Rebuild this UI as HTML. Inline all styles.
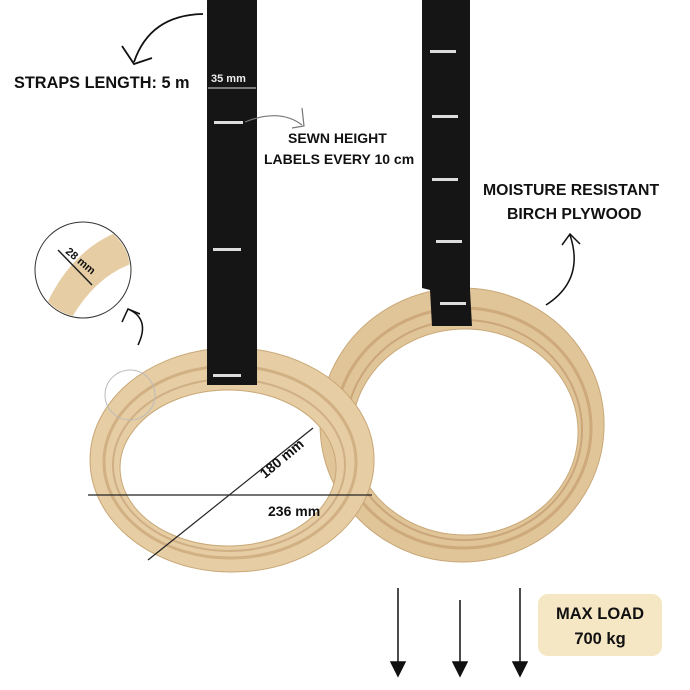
<!DOCTYPE html>
<html><head><style>
body{margin:0;background:#fff;}
svg{display:block;font-family:"Liberation Sans",sans-serif;}
</style></head><body>
<svg width="690" height="690" viewBox="0 0 690 690" xmlns="http://www.w3.org/2000/svg">
<rect width="690" height="690" fill="#fff"/>
<!-- right ring -->
<path fill-rule="evenodd" fill="#e0c598" d="M462,288 a142,137 0 1,0 0.1,0 Z M465,329 a113,103 0 1,0 0.1,0 Z" stroke="#c9a777" stroke-width="1"/>
<ellipse cx="463" cy="428" rx="128" ry="120" fill="none" stroke="#b98d5e" stroke-width="3" opacity="0.5"/>
<ellipse cx="464" cy="430" rx="118" ry="110" fill="none" stroke="#a9794c" stroke-width="2" opacity="0.4"/>
<!-- right strap -->
<path d="M422,0 L470,0 L470,290 L472,326 L432,326 L430,290 L422,288 Z" fill="#151515"/>
<g fill="#ddd"><rect x="430" y="50" width="26" height="3"/><rect x="432" y="115" width="26" height="3"/><rect x="432" y="178" width="26" height="3"/><rect x="436" y="240" width="26" height="3"/><rect x="440" y="302" width="26" height="3"/></g>
<!-- left ring -->
<path fill-rule="evenodd" fill="#e6cda3" d="M232,348 a142,112 0 1,0 0.1,0 Z M228,390 a108,78 0 1,0 0.1,0 Z" stroke="#c9a777" stroke-width="1"/>
<ellipse cx="230" cy="462" rx="126" ry="96" fill="none" stroke="#b98d5e" stroke-width="3" opacity="0.45"/>
<ellipse cx="229" cy="465" rx="116" ry="86" fill="none" stroke="#a9794c" stroke-width="2" opacity="0.35"/>
<!-- left strap -->
<rect x="207" y="0" width="50" height="385" fill="#151515"/>
<g fill="#ddd"><rect x="214" y="121" width="29" height="3"/><rect x="213" y="248" width="28" height="3"/><rect x="213" y="374" width="28" height="3"/></g>
<!-- small magnifier circle -->
<circle cx="83" cy="270" r="48" fill="#fff" stroke="#333" stroke-width="1"/>
<clipPath id="cc"><circle cx="83" cy="270" r="47"/></clipPath>
<g clip-path="url(#cc)"><path d="M40,320 Q70,240 140,225 L145,260 Q95,270 65,330 Z" fill="#e6cda3"/>
<path d="M58,250 L92,285" stroke="#222" stroke-width="1.5"/></g>
<text x="60" y="258" font-size="11" font-weight="bold" fill="#111" transform="rotate(40 70 262)">28 mm</text>
<circle cx="130" cy="395" r="25" fill="none" stroke="#bbb" stroke-width="1"/>
<!-- dimension lines -->
<line x1="88" y1="495" x2="372" y2="495" stroke="#222" stroke-width="1.2"/>
<line x1="148" y1="560" x2="313" y2="428" stroke="#222" stroke-width="1.2"/>
<text x="268" y="516" font-size="14" font-weight="bold" fill="#111">236 mm</text>
<text x="255" y="468" font-size="14" font-weight="bold" fill="#111" transform="rotate(-40 275 460)">180 mm</text>
<!-- curved arrows -->
<path d="M203,14 Q150,15 134,62" fill="none" stroke="#111" stroke-width="1.8"/>
<path d="M122,46 L134,64 L152,58" fill="none" stroke="#111" stroke-width="1.8"/>
<path d="M245,122 Q280,108 302,125" fill="none" stroke="#777" stroke-width="1.2"/>
<path d="M302,108 L304,126 L292,128" fill="none" stroke="#777" stroke-width="1.2"/>
<path d="M546,305 Q585,280 570,235" fill="none" stroke="#111" stroke-width="1.5"/>
<path d="M562,245 L570,234 L580,244" fill="none" stroke="#111" stroke-width="1.5"/>
<path d="M138,345 Q150,320 130,310" fill="none" stroke="#111" stroke-width="1.5"/>
<path d="M122,322 L128,309 L140,314" fill="none" stroke="#111" stroke-width="1.5"/>
<!-- texts -->
<text x="14" y="88" font-size="16.3" font-weight="bold" fill="#111">STRAPS LENGTH: 5 m</text>
<text x="211" y="82" font-size="11" font-weight="bold" fill="#eee">35 mm</text>
<line x1="208" y1="88" x2="256" y2="88" stroke="#ddd" stroke-width="1"/>
<text x="288" y="143" font-size="14" font-weight="bold" fill="#111">SEWN HEIGHT</text>
<text x="264" y="164" font-size="14" font-weight="bold" fill="#111">LABELS EVERY 10 cm</text>
<text x="483" y="195" font-size="15.8" font-weight="bold" fill="#111">MOISTURE RESISTANT</text>
<text x="507" y="219" font-size="15.8" font-weight="bold" fill="#111">BIRCH PLYWOOD</text>
<!-- load arrows -->
<g stroke="#111" stroke-width="1.5" fill="#111">
<line x1="398" y1="588" x2="398" y2="664"/><path d="M391,662 L405,662 L398,676 Z"/>
<line x1="460" y1="600" x2="460" y2="664"/><path d="M453,662 L467,662 L460,676 Z"/>
<line x1="520" y1="588" x2="520" y2="664"/><path d="M513,662 L527,662 L520,676 Z"/>
</g>
<rect x="538" y="594" width="124" height="62" rx="10" fill="#f5e6c4"/>
<text x="600" y="619" font-size="16.5" font-weight="bold" fill="#111" text-anchor="middle">MAX LOAD</text>
<text x="600" y="644" font-size="16.5" font-weight="bold" fill="#111" text-anchor="middle">700 kg</text>
</svg>
</body></html>
